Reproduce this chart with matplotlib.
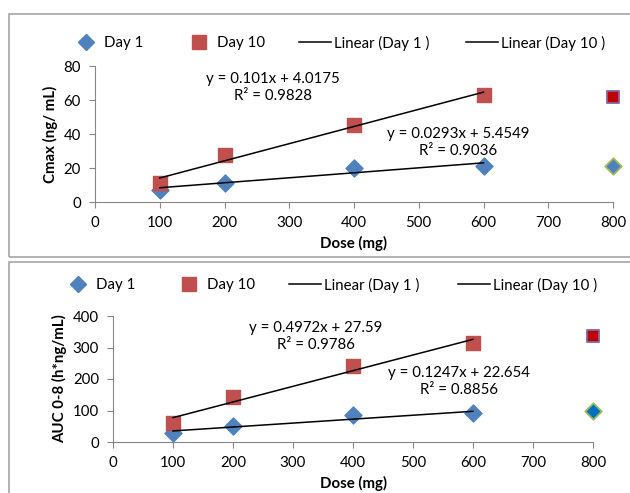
import numpy as np
import matplotlib.pyplot as plt
from matplotlib.patches import Rectangle
from matplotlib.lines import Line2D

plt.rcParams['font.family'] = ['Lato', 'DejaVu Sans']

# dose levels (mg)
dose = [100, 200, 400, 600]
dose_extra = 800

# Cmax (ng/mL)
cmax_day1 = [7, 11, 20, 21]
cmax_day10 = [11, 27.5, 45.5, 63]
cmax_day1_800 = 21
cmax_day10_800 = 62
cmax_fit1 = (0.0293, 5.4549, 0.9036)
cmax_fit10 = (0.101, 4.0175, 0.9828)

# AUC 0-8 (h*ng/mL)
auc_day1 = [27, 52, 86, 91]
auc_day10 = [60, 143, 240, 315]
auc_day1_800 = 100
auc_day10_800 = 335
auc_fit1 = (0.1247, 22.654, 0.8856)
auc_fit10 = (0.4972, 27.59, 0.9786)

legend_labels = ['Day 1', 'Day 10', 'Linear (Day 1 )', 'Linear (Day 10 )']

blue = '#4F81BD'
red = '#C0504D'
W, H = 630, 493
FS = 10.8

fig = plt.figure(figsize=(W / 100, H / 100), dpi=100)

# panel frames
for (x0, y0, x1, y1) in [(9, 14, 640, 257), (9, 262, 640, 500)]:
    fig.patches.append(Rectangle((x0 / W, 1 - y1 / H), (x1 - x0) / W, (y1 - y0) / H,
                                 transform=fig.transFigure, fill=False,
                                 edgecolor='#a6a6a6', lw=1.2))


def panel(rect, d1, d10, d1x, d10x, fit1, fit10, ymax, ystep, ylabel,
          txt10, txt1, d1x_face, legend_y, legend_x):
    l, r, b, t = rect
    ax = fig.add_axes([l / W, 1 - b / H, (r - l) / W, (b - t) / H])
    xs = np.array([dose[0], dose[-1]])
    ax.plot(xs, fit1[0] * xs + fit1[1], color='black', lw=1.1, zorder=3)
    ax.plot(xs, fit10[0] * xs + fit10[1], color='black', lw=1.1, zorder=3)
    ax.scatter(dose, d1, marker='D', s=75, color=blue, zorder=2)
    ax.scatter(dose, d10, marker='s', s=100, color=red, zorder=2)
    ax.scatter([dose_extra], [d10x], marker='s', s=85, color='#C00000',
               edgecolor='#8064A2', lw=1.3, zorder=2, clip_on=False)
    ax.scatter([dose_extra], [d1x], marker='D', s=70, color=d1x_face,
               edgecolor='#9BBB59', lw=1.3, zorder=2, clip_on=False)
    ax.text(txt10[0], txt10[1], 'y = %gx + %g\nR² = %.4f' % fit10,
            ha='center', va='center', fontsize=FS, linespacing=1.3)
    ax.text(txt1[0], txt1[1], 'y = %gx + %g\nR² = %.4f' % fit1,
            ha='center', va='center', fontsize=FS, linespacing=1.3)
    ax.set_xlim(0, 800)
    ax.set_ylim(0, ymax)
    ax.set_xticks(range(0, 801, 100))
    ax.set_yticks(np.arange(0, ymax + 1, ystep))
    for s in ['top', 'right']:
        ax.spines[s].set_visible(False)
    for s in ['left', 'bottom']:
        ax.spines[s].set_color('#868686')
    ax.tick_params(direction='out', length=4, color='#868686',
                   labelsize=FS, pad=6)
    ax.set_xlabel('Dose (mg)', fontsize=FS, fontweight='bold', labelpad=4)
    ax.set_ylabel(ylabel, fontsize=FS, fontweight='bold', labelpad=4)

    handles = [
        Line2D([], [], marker='D', ls='none', color=blue, markersize=8),
        Line2D([], [], marker='s', ls='none', color=red, markersize=10),
        Line2D([], [], color='black', lw=1.1),
        Line2D([], [], color='black', lw=1.1),
    ]
    hlen = [1.9, 1.9, 2.1, 2.1]
    for h, lab, x, hl in zip(handles, legend_labels, legend_x, hlen):
        fig.legend([h], [lab], loc='center left',
                   bbox_to_anchor=(x / W, 1 - legend_y / H),
                   frameon=False, fontsize=FS, handlelength=hl,
                   handletextpad=0.25, borderpad=0, borderaxespad=0)
    return ax


panel((95, 613, 202, 66), cmax_day1, cmax_day10, cmax_day1_800, cmax_day10_800,
      cmax_fit1, cmax_fit10, 80, 20, 'Cmax (ng/ mL)',
      (275, 67.5), (561, 35), blue, 43, [71.5, 185, 299, 466])
panel((113, 593, 442, 316), auc_day1, auc_day10, auc_day1_800, auc_day10_800,
      auc_fit1, auc_fit10, 400, 100, 'AUC 0-8 (h*ng/mL)',
      (338, 336), (577, 193), '#0070C0', 285, [63.5, 175, 289, 458])

fig.savefig('out.png', dpi=100)
